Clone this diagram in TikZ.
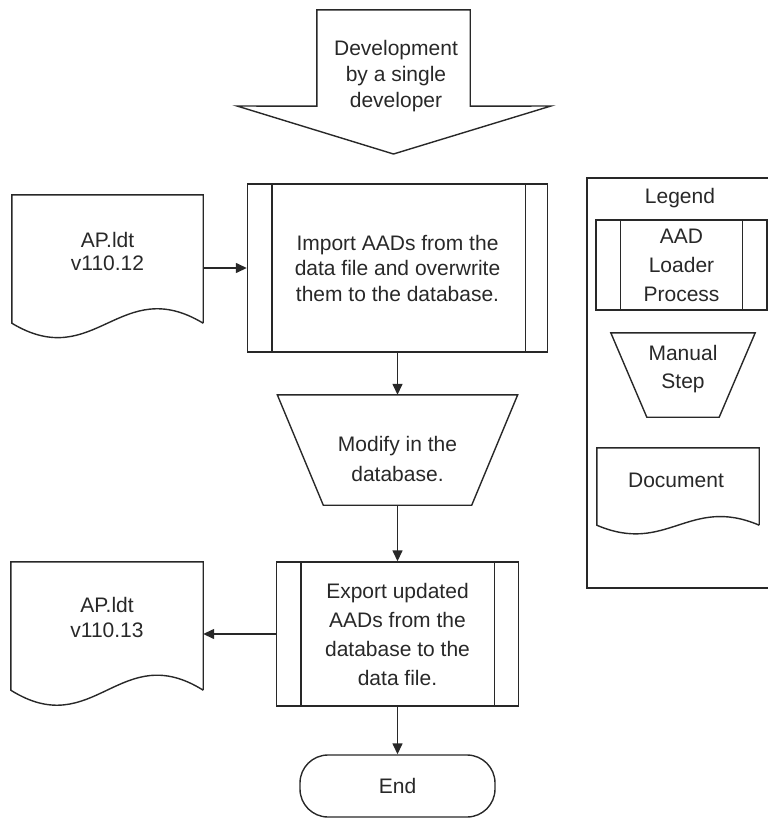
\documentclass[tikz,border=0pt]{standalone}
\usepackage{fontspec}
\setmainfont{Liberation Sans}
\usetikzlibrary{arrows.meta}
\definecolor{ink}{RGB}{40,40,40}
\begin{document}
\begin{tikzpicture}[x=1pt,y=-1pt,
  shp/.style={draw=ink, line width=1.4pt, line join=miter},
  box/.style={rectangle, inner sep=0pt, minimum width=#1},
  lbl/.style={align=center, text=ink, inner sep=0pt},
  fnt/.style={font=\fontsize{21}{#1}\selectfont},
  proc/.style={shp, rectangle, inner sep=0pt, align=center, text=ink},
  arr/.style={draw=ink, line width=1.4pt, -{Triangle[length=11pt,width=10pt]}},
]
\useasboundingbox (0,0) rectangle (768,827);
\clip (0,0) rectangle (768,827);

% block arrow at the top
\node[box=153, minimum height=96] (dev) at (393.5,58) {};
\draw[shp] (dev.north west) -- (dev.north east) -- (dev.south east)
  -- (551,106) -- (393.5,154) -- (237,106) -- (dev.south west) -- cycle;
\node[lbl, fnt=26] (devtxt) at (396,76) {Development\\by a single\\developer};

% import process
\node[proc, fnt=25.5, minimum width=300, minimum height=168] (imp) at (397.5,268)
  {Import AADs from the\\data file and overwrite\\them to the database.};
\draw[shp] ([xshift=25pt]imp.north west) -- ([xshift=25pt]imp.south west);
\draw[shp] ([xshift=-23pt]imp.north east) -- ([xshift=-23pt]imp.south east);

% input document
\node[box=191, minimum height=128] (doc1) at (107.5,259) {};
\draw[shp] (doc1.south east) -- (doc1.north east) -- (doc1.north west) -- (doc1.south west)
  .. controls +(83,50) and +(-83,-50) .. (doc1.south east);
\node[lbl, fnt=23] (doc1txt) at (107.5,251) {AP.ldt\\v110.12};

% manual step
\node[box=240, minimum height=110] (man) at (397.5,450) {};
\draw[shp] (man.north west) -- (man.north east) -- ([xshift=-46pt]man.south east)
  -- ([xshift=46pt]man.south west) -- cycle;
\node[lbl, fnt=30] (mantxt) at (397.5,459) {Modify in the\\database.};

% export process
\node[proc, fnt=29, minimum width=242, minimum height=144] (exp) at (397.5,634)
  {Export updated\\AADs from the\\database to the\\data file.};
\draw[shp] ([xshift=25pt]exp.north west) -- ([xshift=25pt]exp.south west);
\draw[shp] ([xshift=-25pt]exp.north east) -- ([xshift=-25pt]exp.south east);

% output document
\node[box=192, minimum height=128] (doc2) at (107,626) {};
\draw[shp] (doc2.south east) -- (doc2.north east) -- (doc2.north west) -- (doc2.south west)
  .. controls +(83,52) and +(-83,-52) .. (doc2.south east);
\node[lbl, fnt=25] (doc2txt) at (107,617) {AP.ldt\\v110.13};

% terminator
\node[proc, fnt=26, minimum width=195, minimum height=62, rounded corners=28pt] (end) at (397.5,786) {\raisebox{-2pt}{End}};

% connectors
\draw[arr] (doc1.east |- imp.west) -- (imp.west);
\draw[arr] (imp.south) -- (man.north);
\draw[arr] (man.south) -- (exp.north);
\draw[arr] (exp.west) -- (doc2.east |- exp.west);
\draw[arr] (exp.south) -- (end.north);

% legend
\node[shp, box=188, minimum height=410] (leg) at (681,383) {};
\node[lbl, fnt=26] (legtxt) at (680,198) {Legend};
\node[proc, fnt=29, minimum width=171, minimum height=90] (lproc) at (681.5,265)
  {AAD\\Loader\\Process};
\draw[shp] ([xshift=25pt]lproc.north west) -- ([xshift=25pt]lproc.south west);
\draw[shp] ([xshift=-25pt]lproc.north east) -- ([xshift=-25pt]lproc.south east);
\node[box=144, minimum height=84] (lman) at (683,375) {};
\draw[shp] (lman.north west) -- (lman.north east) -- ([xshift=-36pt]lman.south east)
  -- ([xshift=36pt]lman.south west) -- cycle;
\node[lbl, fnt=28] (lmantxt) at (683,369) {Manual\\Step};
\node[box=162, minimum height=77] (ldoc) at (678,486.5) {};
\draw[shp] (ldoc.south east) -- (ldoc.north east) -- (ldoc.north west) -- (ldoc.south west)
  .. controls +(70,30) and +(-70,-30) .. (ldoc.south east);
\node[lbl, fnt=26] (ldoctxt) at (676,480) {Document};
\end{tikzpicture}
\end{document}
